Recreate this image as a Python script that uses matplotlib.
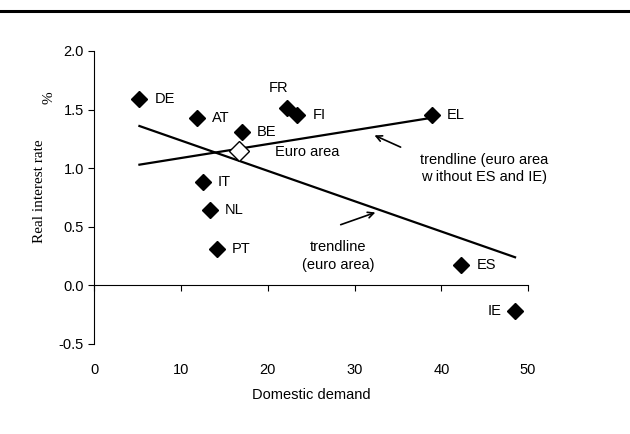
import numpy as np
import matplotlib
matplotlib.use("Agg")
import matplotlib.pyplot as plt
from matplotlib.lines import Line2D

# country points: domestic demand vs real interest rate
countries = ["DE", "AT", "BE", "FR", "FI", "IT", "NL", "PT", "EL", "ES", "IE"]
demand = [5.2, 11.8, 17.0, 22.2, 23.4, 12.5, 13.3, 14.1, 38.9, 42.3, 48.5]
rate = [1.59, 1.43, 1.31, 1.51, 1.45, 0.88, 0.64, 0.31, 1.45, 0.17, -0.22]

# euro area aggregate
ea_demand = [16.7]
ea_rate = [1.15]

# trendlines as drawn (start / end)
trend_all_x = [5.2, 48.5]
trend_all_y = [1.36, 0.24]
trend_sub_x = [5.2, 38.9]
trend_sub_y = [1.03, 1.43]

# label offsets in points (dx, dy, ha)
offsets = {"FR": (-6, 15, "center"), "IE": (-10, 0, "right")}

plt.rcParams["font.family"] = ["Liberation Sans", "DejaVu Sans"]
plt.rcParams["font.size"] = 10.5

fig = plt.figure(figsize=(6.3, 4.34), dpi=100)
ax = fig.add_axes([0.1497, 0.2074, 0.6885, 0.6751])

ax.plot(trend_all_x, trend_all_y, color="black", lw=1.6, zorder=2)
ax.plot(trend_sub_x, trend_sub_y, color="black", lw=1.6, zorder=2)

ax.plot(demand, rate, "D", color="black", ms=8, ls="none", zorder=3)
ax.plot(ea_demand, ea_rate, "D", mfc="white", mec="black", mew=1.0, ms=10,
        ls="none", zorder=3)

for c, x, y in zip(countries, demand, rate):
    dx, dy, ha = offsets.get(c, (11, 0, "left"))
    ax.annotate(c, (x, y), xytext=(dx, dy), textcoords="offset points",
                ha=ha, va="center")
ax.annotate("Euro area", (ea_demand[0], ea_rate[0]), xytext=(26, -1),
            textcoords="offset points", ha="left", va="center")

ax.annotate("", xy=(32.0, 1.29), xytext=(35.6, 1.17),
            arrowprops=dict(arrowstyle="->", color="black", lw=1.2))
ax.text(44.9, 1.0, "trendline (euro area\nw ithout ES and IE)",
        ha="center", va="center", linespacing=1.3)
ax.annotate("", xy=(32.7, 0.63), xytext=(28.1, 0.51),
            arrowprops=dict(arrowstyle="->", color="black", lw=1.2))
ax.text(28.1, 0.25, "trendline\n(euro area)", ha="center", va="center",
        linespacing=1.3)

ax.set_xlim(0, 50)
ax.set_ylim(-0.5, 2.0)
ax.set_xticks(np.arange(0, 51, 10))
ax.set_yticks(np.arange(-0.5, 2.01, 0.5))
ax.set_yticklabels([f"{v:.1f}" for v in np.arange(-0.5, 2.01, 0.5)])

ax.spines["top"].set_visible(False)
ax.spines["right"].set_visible(False)
ax.spines["bottom"].set_position(("data", 0))
ax.tick_params(axis="y", direction="out", length=4, width=0.8)
ax.tick_params(axis="x", direction="out", length=4, width=0.8, pad=52)

ax.set_xlabel("Domestic demand", labelpad=8)
fig.text(0.063, 0.56, "Real interest rate", rotation=90, ha="center",
         va="center", family="Liberation Serif", fontsize=11)
fig.text(0.078, 0.775, "%", rotation=90, ha="center", va="center",
         family="Liberation Serif", fontsize=11)

# thick rule across the top
fig.add_artist(Line2D([0, 1], [1 - 11 / 434] * 2, color="black", lw=2.2))

fig.savefig("out.png", dpi=100)
